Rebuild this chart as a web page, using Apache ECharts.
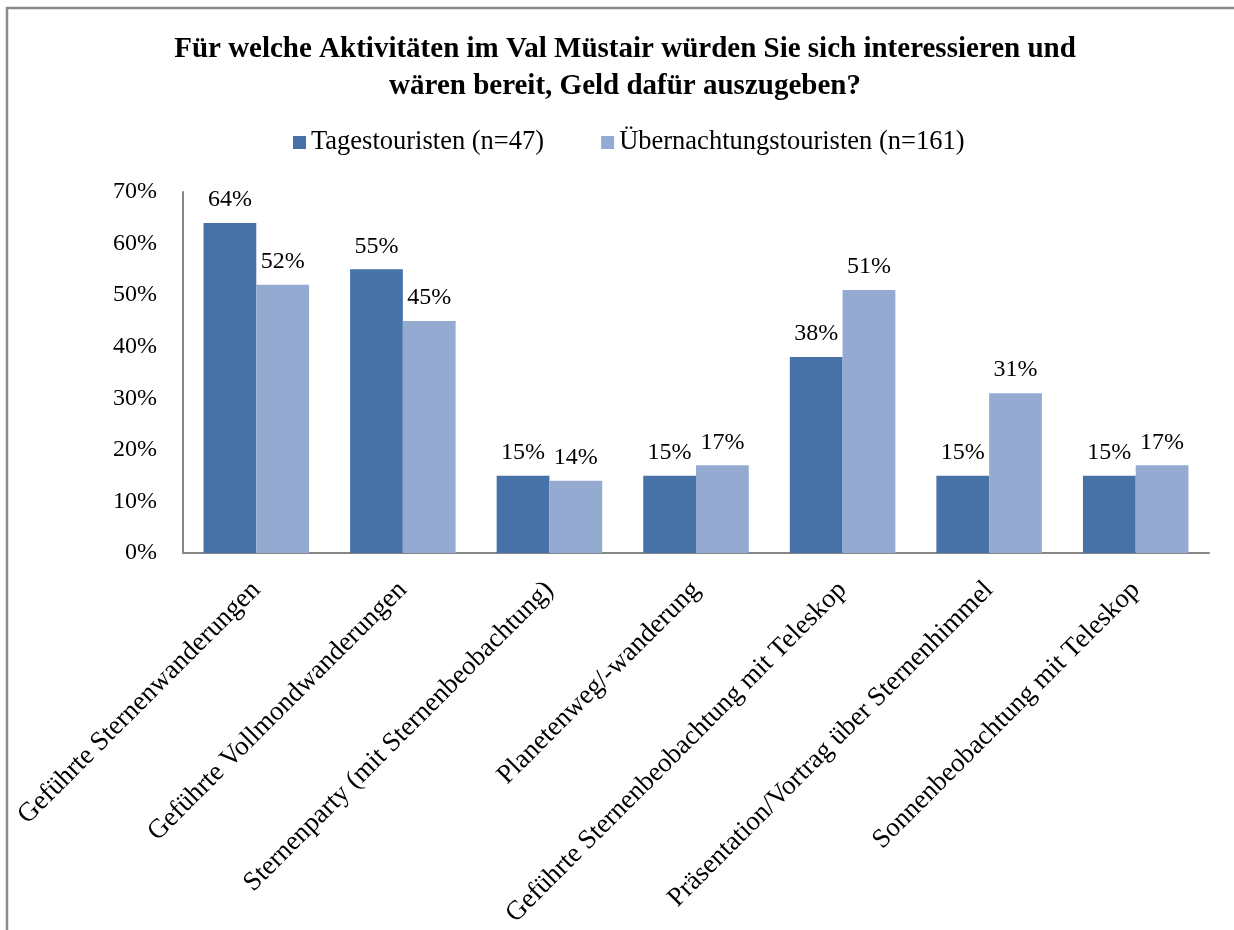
<!DOCTYPE html>
<html>
<head>
<meta charset="utf-8">
<script src="https://cdn.jsdelivr.net/npm/echarts@6/dist/echarts.min.js"></script>
<style>
  html, body { margin: 0; padding: 0; background: #ffffff; }
  #chart { width: 1234px; height: 930px; }
</style>
</head>
<body>
<div id="chart"></div>
<script>
// Activities asked about in the survey
const categories = [
  'Geführte Sternenwanderungen',
  'Geführte Vollmondwanderungen',
  'Sternenparty (mit Sternenbeobachtung)',
  'Planetenweg/-wanderung',
  'Geführte Sternenbeobachtung mit Teleskop',
  'Präsentation/Vortrag über Sternenhimmel',
  'Sonnenbeobachtung mit Teleskop'
];

// Share of respondents (%) per group
const tagestouristen = [64, 55, 15, 15, 38, 15, 15];
const uebernachtungstouristen = [52, 45, 14, 17, 51, 31, 17];

const seriesNames = ['Tagestouristen (n=47)', 'Übernachtungstouristen (n=161)'];
const titleText = 'Für welche Aktivitäten im Val Müstair würden Sie sich interessieren und\nwären bereit, Geld dafür auszugeben?';

const FONT = '"Liberation Serif", "Times New Roman", serif';
const TEXT_COLOR = '#000000';
const AXIS_COLOR = '#868686';

const chart = echarts.init(document.getElementById('chart'), null, { renderer: 'canvas' });

const labelStyle = {
  show: true,
  position: 'top',
  distance: 11,
  formatter: p => p.value + '%',
  fontFamily: FONT,
  fontSize: 24,
  color: TEXT_COLOR
};

chart.setOption({
  backgroundColor: '#ffffff',
  animation: false,
  graphic: [{
    type: 'rect',
    shape: { x: 7, y: 8, width: 1240, height: 940 },
    style: { fill: 'none', stroke: '#8a8a8a', lineWidth: 2.5 },
    silent: true
  }],
  title: {
    text: titleText,
    left: 620,
    textAlign: 'center',
    top: 26,
    textStyle: {
      fontFamily: FONT,
      fontSize: 29,
      fontWeight: 'bold',
      color: TEXT_COLOR,
      lineHeight: 37
    }
  },
  legend: {
    top: 124,
    left: 288,
    itemWidth: 13,
    itemHeight: 13,
    itemGap: 57,
    icon: 'rect',
    textStyle: { fontFamily: FONT, fontSize: 26.5, color: TEXT_COLOR },
    data: seriesNames
  },
  grid: { left: 183, right: 25, top: 192, bottom: 377, containLabel: false },
  xAxis: {
    type: 'category',
    data: categories,
    axisLine: { show: true, lineStyle: { color: AXIS_COLOR, width: 2 } },
    axisTick: { show: false },
    axisLabel: {
      interval: 0,
      rotate: 45,
      margin: 33,
      fontFamily: FONT,
      fontSize: 27,
      color: TEXT_COLOR
    },
    splitLine: { show: false }
  },
  yAxis: {
    type: 'value',
    min: 0,
    max: 70,
    interval: 10,
    axisLine: { show: true, lineStyle: { color: AXIS_COLOR, width: 2 } },
    axisTick: { show: false },
    splitLine: { show: false },
    axisLabel: {
      formatter: v => v + '%',
      margin: 26,
      fontFamily: FONT,
      fontSize: 24,
      color: TEXT_COLOR
    }
  },
  series: [
    {
      name: seriesNames[0],
      type: 'bar',
      data: tagestouristen,
      barGap: '0%',
      barCategoryGap: '28%',
      itemStyle: { color: '#4672a8' },
      label: labelStyle
    },
    {
      name: seriesNames[1],
      type: 'bar',
      data: uebernachtungstouristen,
      barGap: '0%',
      barCategoryGap: '28%',
      itemStyle: { color: '#95aad0' },
      label: labelStyle
    }
  ]
});
</script>
</body>
</html>
